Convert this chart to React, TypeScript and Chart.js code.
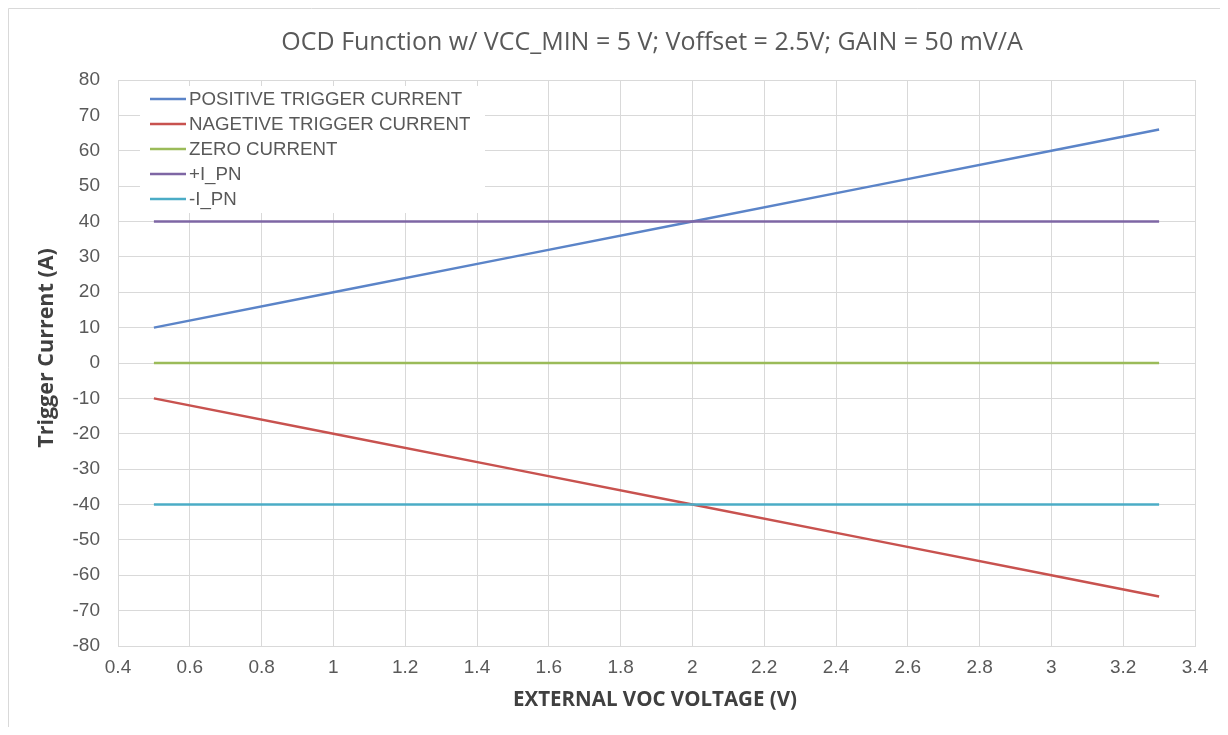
import React, { useEffect, useRef } from "react";
import { Chart, registerables } from "chart.js";

Chart.register(...registerables);

const TITLE = "OCD Function w/ VCC_MIN = 5 V; Voffset = 2.5V; GAIN = 50 mV/A";
const X_TITLE = "EXTERNAL VOC VOLTAGE (V)";
const Y_TITLE = "Trigger Current (A)";

const voltage = [0.5, 1.0, 1.5, 2.0, 2.5, 3.0, 3.3];
const positiveTrigger = [10, 20, 30, 40, 50, 60, 66];
const negativeTrigger = [-10, -20, -30, -40, -50, -60, -66];
const zeroCurrent = [0, 0, 0, 0, 0, 0, 0];
const plusIpn = [40, 40, 40, 40, 40, 40, 40];
const minusIpn = [-40, -40, -40, -40, -40, -40, -40];

const seriesNames = [
  "POSITIVE TRIGGER CURRENT",
  "NAGETIVE TRIGGER CURRENT",
  "ZERO CURRENT",
  "+I_PN",
  "-I_PN",
];
const seriesValues = [positiveTrigger, negativeTrigger, zeroCurrent, plusIpn, minusIpn];
const seriesColors = ["#5B84C8", "#C8524F", "#9BBB59", "#7E66A4", "#4BACC6"];

const GRID = "#d9d9d9";
const TEXT = "#595959";

const textPlugin = {
  id: "textPlugin",
  beforeDraw(chart: any) {
    const { ctx, width, height } = chart;
    ctx.save();
    ctx.fillStyle = "#ffffff";
    ctx.fillRect(0, 0, width, height);
    ctx.strokeStyle = GRID;
    ctx.lineWidth = 1;
    ctx.beginPath();
    ctx.moveTo(0.5, height);
    ctx.lineTo(0.5, 0.5);
    ctx.lineTo(width, 0.5);
    ctx.stroke();
    ctx.restore();
  },
  beforeDatasetsDraw(chart: any) {
    const { ctx } = chart;
    ctx.save();
    ctx.fillStyle = "#ffffff";
    ctx.fillRect(132, 78, 345, 127);
    ctx.restore();
  },
  afterDraw(chart: any) {
    const { ctx } = chart;
    ctx.save();
    // title
    ctx.fillStyle = TEXT;
    ctx.textAlign = "center";
    ctx.textBaseline = "middle";
    ctx.font = "25px 'Open Sans'";
    ctx.fillText(TITLE, 644, 35);
    // x title
    ctx.fillStyle = "#404040";
    ctx.font = "bold 20.5px 'Open Sans'";
    ctx.fillText(X_TITLE, 647, 692);
    // y title
    ctx.save();
    ctx.translate(39, 340);
    ctx.rotate(-Math.PI / 2);
    ctx.font = "bold 21.5px 'Open Sans'";
    ctx.fillText(Y_TITLE, 0, 0);
    ctx.restore();
    // legend
    ctx.textAlign = "left";
    ctx.font = "18.7px 'Liberation Sans'";
    seriesNames.forEach((name, i) => {
      const y = 91 + i * 25;
      ctx.strokeStyle = seriesColors[i];
      ctx.lineWidth = 2.5;
      ctx.beginPath();
      ctx.moveTo(142, y);
      ctx.lineTo(178, y);
      ctx.stroke();
      ctx.fillStyle = TEXT;
      ctx.fillText(name, 181, y + 1);
    });
    ctx.restore();
  },
};

export default function App() {
  const ref = useRef<HTMLCanvasElement>(null);
  useEffect(() => {
    if (!ref.current) return;
    const datasets = seriesNames.map((name, i) => ({
      label: name,
      data: voltage.map((v, j) => ({ x: v, y: seriesValues[i][j] })),
      borderColor: seriesColors[i],
      backgroundColor: seriesColors[i],
      borderWidth: 2.5,
      pointRadius: 0,
      fill: false,
      tension: 0,
      order: seriesNames.length - i,
    }));
    const chart = new Chart(ref.current, {
      type: "line",
      data: { datasets },
      plugins: [textPlugin],
      options: {
        animation: false,
        responsive: false,
        devicePixelRatio: 1,
        layout: { padding: { top: 72, right: 25, left: 0, bottom: 0 } },
        plugins: { legend: { display: false }, title: { display: false }, tooltip: { enabled: false } },
        scales: {
          x: {
            type: "linear",
            min: 0.4,
            max: 3.4,
            ticks: {
              stepSize: 0.2,
              padding: 10,
              color: TEXT,
              font: { family: "'Liberation Sans'", size: 19 },
              callback: (v: any) => String(Number(Number(v).toFixed(1))),
              maxRotation: 0,
              autoSkip: false,
            },
            grid: { color: GRID, drawTicks: false },
            border: { color: GRID },
            afterFit: (s: any) => {
              s.height = 81;
            },
          },
          y: {
            min: -80,
            max: 80,
            ticks: {
              stepSize: 10,
              padding: 18,
              color: TEXT,
              font: { family: "'Liberation Sans'", size: 19 },
            },
            grid: { color: GRID, drawTicks: false },
            border: { color: GRID },
            afterFit: (s: any) => {
              s.width = 110;
            },
          },
        },
      },
    });
    return () => chart.destroy();
  }, []);
  return <canvas ref={ref} width={1212} height={719} style={{ display: "block" }} />;
}
